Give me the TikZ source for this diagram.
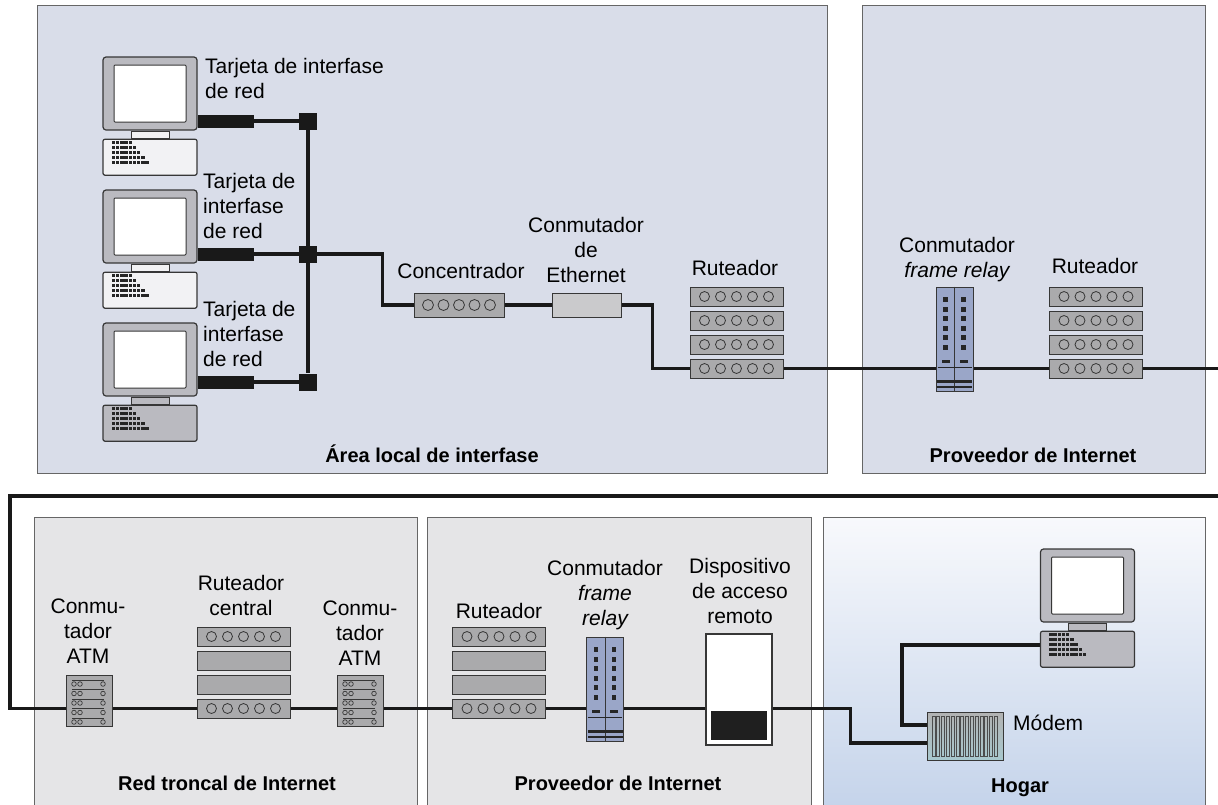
\documentclass[tikz,border=0pt]{standalone}
\usepackage{fontspec}
\setmainfont{Liberation Sans}
\usetikzlibrary{positioning, backgrounds}

\definecolor{lanbg}{RGB}{217,221,233}
\definecolor{wanbg}{RGB}{229,229,231}
\definecolor{hometop}{RGB}{248,249,252}
\definecolor{homebot}{RGB}{196,211,234}
\definecolor{rackgray}{RGB}{170,170,172}
\definecolor{swgray}{RGB}{202,202,204}
\definecolor{pcgray}{RGB}{186,186,192}
\definecolor{pclight}{RGB}{242,242,244}
\definecolor{frblue}{RGB}{154,166,200}
\definecolor{modemteal}{RGB}{168,200,206}
\definecolor{edge}{RGB}{55,55,55}

\tikzset{
  panel/.style={draw=black!60, line width=1pt},
  cable/.style={line width=3.6pt, black!90},
  nic/.style={line width=13pt, black!90},
  tap/.style={fill=black!90, inner sep=0, minimum width=18pt, minimum height=17pt},
  lbl/.style={font=\fontsize{21}{25}\selectfont, align=center, inner sep=0},
  area/.style={font=\fontsize{20}{24}\selectfont\bfseries, inner sep=0},
  slot/.style={draw=edge, line width=1pt, fill=rackgray, inner sep=0,
    minimum width=93pt, minimum height=19pt},
  holes/.style={path picture={\foreach \k in {-2,...,2}
      \draw[edge, line width=0.8pt] ([xshift=\k*16pt]path picture bounding box.center) circle (5pt);}},
  hubbox/.style={draw=edge, line width=1pt, fill=rackgray, inner sep=0,
    minimum width=90pt, minimum height=24pt,
    path picture={\foreach \k in {-2,...,2}
      \draw[edge, line width=0.8pt] ([xshift=\k*15.5pt]path picture bounding box.center) circle (5.5pt);}},
  swbox/.style={draw=edge, line width=1pt, fill=swgray, inner sep=0,
    minimum width=69pt, minimum height=24pt},
  frbox/.style={draw=edge, line width=1pt, fill=frblue, inner sep=0,
    minimum width=37pt, minimum height=104pt},
  atmbox/.style={draw=edge, line width=1pt, fill=rackgray, inner sep=0,
    minimum width=46pt, minimum height=51pt},
  radbox/.style={draw=edge, line width=1.2pt, fill=white, inner sep=0,
    minimum width=66pt, minimum height=111pt},
  modembox/.style={draw=edge, line width=1pt, top color=gray!60, bottom color=modemteal,
    inner sep=0, minimum width=76pt, minimum height=48pt},
  monitor/.style={draw=edge, line width=1.2pt, fill=pcgray, rounded corners=3pt,
    inner sep=0, minimum width=94pt, minimum height=73pt},
  screen/.style={draw=edge, line width=1pt, fill=white, rounded corners=1pt,
    inner sep=0, minimum width=72pt, minimum height=57pt},
  stand/.style={draw=edge, line width=1pt, inner sep=0, minimum width=38pt, minimum height=7pt},
  pcbase/.style={draw=edge, line width=1.2pt, rounded corners=2pt, inner sep=0,
    minimum width=94pt, minimum height=36pt}
}

% computer: name, x centre, top of monitor, colour of the box
\newcommand\computer[4]{%
  \node[monitor] (#1) at (#2,#3+36.5) {};
  \node[screen] (#1-scr) at (#1.center) {};
  \node[stand, fill=#4, below=0pt of #1] (#1-stand) {};
  \node[pcbase, fill=#4, below=0pt of #1-stand] (#1-base) {};
  \foreach \r/\n in {0/5,1/6,2/7,3/8,4/9}
    \foreach \c in {1,...,\n}
      \fill[black!85] (#2-47+4.5+4.2*\c,#3+84+5*\r) rectangle ++(3.4,3.4);
}

% frame relay switch: name, x, y centre
\newcommand\frswitch[3]{%
  \node[frbox] (#1) at (#2,#3) {};
  \draw[edge, line width=0.8pt] (#1.north) -- (#1.south);
  \foreach \s in {-9,9} {
    \foreach \k in {0,...,5}
      \fill[black!85] (#2+\s-2.2,#3-42+\k*9.6) rectangle ++(4.5,5);
    \fill[black!85] (#2+\s-4,#3+21) rectangle ++(8,2.5);
  }
  \draw[black!85, line width=1pt] (#2-17,#3+28) -- (#2+17,#3+28);
  \fill[black!85] (#2-17.5,#3+41) rectangle ++(35,2.5);
  \fill[black!85] (#2-17.5,#3+46.5) rectangle ++(35,2.5);
}

% ATM switch: name, x, y centre
\newcommand\atmswitch[3]{%
  \node[atmbox] (#1) at (#2,#3) {};
  \foreach \k in {0,...,4} {
    \draw[edge, line width=0.7pt] (#2-17,#3-20.5+\k*9.5) -- (#2+15,#3-20.5+\k*9.5);
    \foreach \dx in {-15,-9,14}
      \draw[edge, line width=0.7pt] (#2+\dx,#3-16.5+\k*9.5) circle (2.3pt);
  }
}

\begin{document}
\begin{tikzpicture}[x=1pt, y=-1pt]
  \useasboundingbox (0,0) rectangle (1218,804);

  % areas
  \begin{scope}[on background layer]
    \draw[panel, fill=lanbg] (37,5) rectangle (827,473);
    \draw[panel, fill=lanbg] (862,5) rectangle (1205,473);
    \draw[panel, fill=wanbg] (34,517) rectangle (417,812);
    \draw[panel, fill=wanbg] (427,517) rectangle (811,812);
    \shade[panel, top color=hometop, bottom color=homebot] (823,517) rectangle (1205,812);
  \end{scope}

  % local area
  \computer{pc1}{150}{57}{pclight}
  \computer{pc2}{150}{190}{pclight}
  \computer{pc3}{150}{323}{pcgray}
  \node[tap] (tap1) at (308,121) {};
  \node[tap] (tap2) at (308,254) {};
  \node[tap] (tap3) at (308,382) {};

  % base of a multi-line label = its last line
  \node[lbl, align=left, anchor=base west] (nic1lbl) at (205,98) {Tarjeta de interfase\\de red};
  \node[lbl, align=left, anchor=base west] (nic2lbl) at (203,238) {Tarjeta de\\interfase\\de red};
  \node[lbl, align=left, anchor=base west] (nic3lbl) at (203,366) {Tarjeta de\\interfase\\de red};

  \node[hubbox] (hub) at (459,305) {};
  \node[lbl, anchor=base] (hublbl) at (461,278) {Concentrador};
  \node[swbox] (esw) at (586.5,305) {};
  \node[lbl, anchor=base] (eswlbl) at (586,282) {Conmutador\\de\\Ethernet};

  \foreach \r [count=\i from 0] in {a,b,c,d}
    \node[slot, holes] (r1\r) at (736.5,296.5+24*\i) {};
  \node[lbl, anchor=base] (r1lbl) at (735,275) {Ruteador};

  % internet provider
  \frswitch{fr1}{954.5}{339}
  \node[lbl, anchor=base] (fr1lbl) at (957,277) {Conmutador\\\itshape frame relay};
  \foreach \r [count=\i from 0] in {a,b,c,d}
    \node[slot, holes] (r2\r) at (1096,296.5+24*\i) {};
  \node[lbl, anchor=base] (r2lbl) at (1095,273) {Ruteador};

  \node[area, anchor=base] (lanlbl) at (432,462) {Área local de interfase};
  \node[area, anchor=base] (isp1lbl) at (1033,462) {Proveedor de Internet};

  % backbone
  \atmswitch{atm1}{89}{700.5}
  \node[lbl, anchor=base] (atm1lbl) at (88,663) {Conmu-\\tador\\ATM};
  \foreach \r/\s [count=\i from 0] in {a/holes,b/,c/,d/holes}
    \node[slot, \s] (cr\r) at (243.5,636.5+24*\i) {};
  \node[lbl, anchor=base] (crlbl) at (241,615) {Ruteador\\central};
  \atmswitch{atm2}{360}{700.5}
  \node[lbl, anchor=base] (atm2lbl) at (360,665) {Conmu-\\tador\\ATM};
  \node[area, anchor=base] (corelbl) at (227,790) {Red troncal de Internet};

  % second provider
  \foreach \r/\s [count=\i from 0] in {a/holes,b/,c/,d/holes}
    \node[slot, \s] (rb\r) at (499,636.5+24*\i) {};
  \node[lbl, anchor=base] (rblbl) at (499,618) {Ruteador};
  \frswitch{fr2}{605}{689}
  \node[lbl, anchor=base] (fr2lbl) at (605,625) {Conmutador\\\itshape frame\\\itshape relay};
  \node[radbox] (rad) at (739,689.5) {};
  \fill[black!88] (711,711) rectangle (767,740);
  \node[lbl, anchor=base] (radlbl) at (740,623) {Dispositivo\\de acceso\\remoto};
  \node[area, anchor=base] (isp2lbl) at (618,790) {Proveedor de Internet};

  % home
  \computer{pc4}{1087.5}{549}{pcgray}
  \node[modembox] (modem) at (965,736) {};
  \foreach \k in {0,...,13}
    \draw[black!70, line width=0.8pt] (932+\k*4.8,716) rectangle ++(3,40);
  \node[lbl, anchor=base west] (modemlbl) at (1013,730) {Módem};
  \node[area, anchor=base] (homelbl) at (1020,792) {Hogar};

  \coordinate (exitR) at (1218,368.5);
  \coordinate (wrapR) at (1218,496);
  \coordinate (wrapL) at (10,496);

  % wiring
  \begin{scope}[on background layer]
    \foreach \n in {1,2,3} {
      \draw[nic] (pc\n.east |- tap\n) -- ++(56,0) coordinate (nic\n);
      \draw[cable] (nic\n) -- (tap\n);
    }
    \draw[cable] (tap1) -- (tap3);
    \draw[cable] (tap2) -| ([xshift=-31pt]hub.west) -- (hub.west);
    \draw[cable] (hub) -- (esw);
    \draw[cable] (esw) -| ([xshift=-37pt]r1d.west) -- (r1d.west);
    \draw[cable] (r1d) -- (r2d) -- (exitR);
    \draw[cable] (wrapR) -- (wrapL) |- (crd.west);
    \draw[cable] (crd) -- (rbd);
    \draw[cable] (rbd) -| ([xshift=-76pt,yshift=-7pt]modem.west) -- ([yshift=-7pt]modem.west);
    \draw[cable] ([yshift=11pt]modem.west) -| ([xshift=-138pt,yshift=4pt]pc4-base.west)
      -- ([yshift=4pt]pc4-base.west);
  \end{scope}
\end{tikzpicture}
\end{document}
